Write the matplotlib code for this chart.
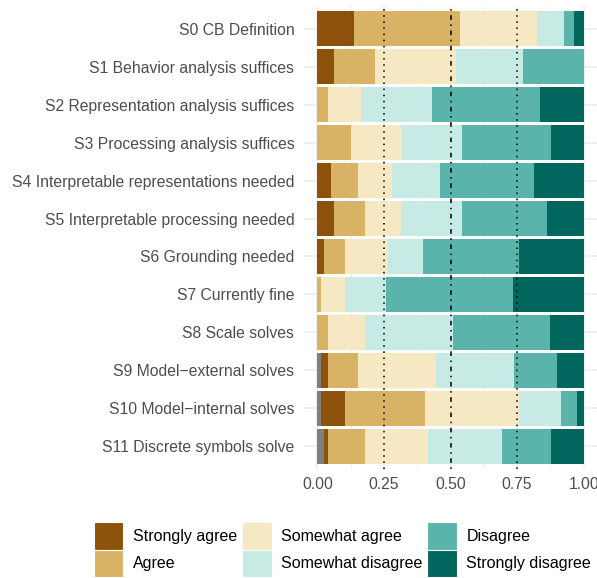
import matplotlib.pyplot as plt
from matplotlib.patches import Patch
import numpy as np

# statements, top to bottom
statements = [
    "S0 CB Definition",
    "S1 Behavior analysis suffices",
    "S2 Representation analysis suffices",
    "S3 Processing analysis suffices",
    "S4 Interpretable representations needed",
    "S5 Interpretable processing needed",
    "S6 Grounding needed",
    "S7 Currently fine",
    "S8 Scale solves",
    "S9 Model\u2212external solves",
    "S10 Model\u2212internal solves",
    "S11 Discrete symbols solve",
]

levels = ["Strongly agree", "Agree", "Somewhat agree",
          "Somewhat disagree", "Disagree", "Strongly disagree"]
colors = ["#8c510a", "#d8b365", "#f6e8c3", "#c7eae5", "#5ab4ac", "#01665e"]

# proportions (no answer shown in grey)
no_answer = [0, 0, 0, 0, 0, 0, 0, 0, 0, 0.015, 0.015, 0.026]
strongly_agree = [0.139, 0.064, 0, 0, 0.053, 0.064, 0.026, 0, 0, 0.026, 0.090, 0.015]
agree = [0.395, 0.154, 0.041, 0.128, 0.101, 0.116, 0.079, 0.015, 0.041, 0.113, 0.301, 0.139]
somewhat_agree = [0.289, 0.301, 0.124, 0.191, 0.128, 0.136, 0.162, 0.090, 0.139, 0.290, 0.353, 0.237]
somewhat_disagree = [0.102, 0.255, 0.267, 0.226, 0.177, 0.229, 0.128, 0.151, 0.328, 0.293, 0.155, 0.278]
disagree = [0.038, 0.226, 0.403, 0.331, 0.353, 0.316, 0.364, 0.477, 0.364, 0.161, 0.060, 0.181]
strongly_disagree = [0.037, 0.0, 0.165, 0.124, 0.188, 0.139, 0.241, 0.267, 0.128, 0.102, 0.026, 0.124]

series = [strongly_agree, agree, somewhat_agree,
          somewhat_disagree, disagree, strongly_disagree]

plt.rcParams['font.family'] = ['Liberation Sans', 'DejaVu Sans']

fig = plt.figure(figsize=(5.97, 5.78), dpi=100)
ax = fig.add_axes([304 / 597, 109 / 578, 293 / 597, 463 / 578])

y = np.arange(len(statements))
left = np.array(no_answer, dtype=float)
ax.barh(y, no_answer, height=0.92, color="#7f7f7f", zorder=2)
for vals, col in zip(series, colors):
    ax.barh(y, vals, left=left, height=0.92, color=col, zorder=2)
    left = left + np.array(vals)

# reference lines
ax.axvline(0.25, color="black", linestyle=(0, (1, 3)), lw=1.1, zorder=3)
ax.axvline(0.75, color="black", linestyle=(0, (1, 3)), lw=1.1, zorder=3)
ax.axvline(0.5, color="black", linestyle=(0, (1, 3, 3, 3)), lw=1.1, zorder=3)

ax.set_xlim(-0.05, 1.05)
ax.set_ylim(len(statements) - 0.4, -0.6)
ax.set_yticks(y)
ax.set_yticklabels(statements)
ax.set_xticks([0, 0.25, 0.5, 0.75, 1.0])
ax.set_xticklabels(["0.00", "0.25", "0.50", "0.75", "1.00"])
ax.set_xticks([0.125, 0.375, 0.625, 0.875], minor=True)

ax.grid(True, which="major", color="#ebebeb", lw=1.1, zorder=0)
ax.grid(True, which="minor", axis="x", color="#ebebeb", lw=0.6, zorder=0)
for s in ax.spines.values():
    s.set_visible(False)
ax.tick_params(which="both", length=0, labelsize=11.3, labelcolor="#4d4d4d")
ax.tick_params(axis="y", pad=7)
ax.tick_params(axis="x", pad=6)

handles = [Patch(facecolor=c, edgecolor="white", lw=0.8) for c in colors]
fig.legend(handles, levels, ncol=3, loc="lower left", bbox_to_anchor=(85 / 597, -0.014),
           frameon=False, fontsize=11.5, handlelength=1.85, handleheight=2.3,
           labelspacing=0.0, columnspacing=0.3, handletextpad=0.6, borderpad=0.05)

fig.savefig("out.png", dpi=100)
